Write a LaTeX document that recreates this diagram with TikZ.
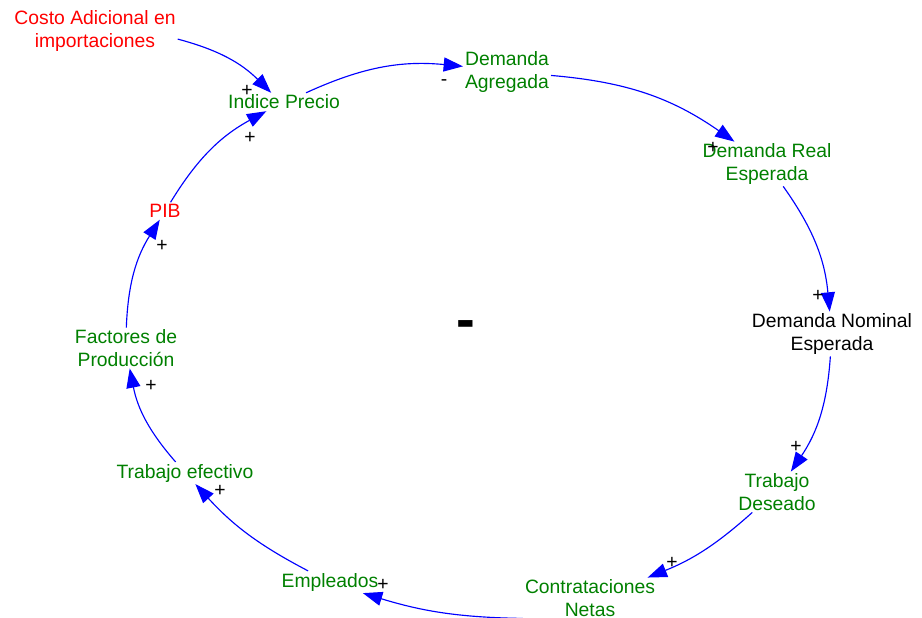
\documentclass[tikz,border=0pt]{standalone}
\usepackage{fontspec}
\setmainfont{Liberation Sans}
\usetikzlibrary{arrows.meta}
\definecolor{vargreen}{RGB}{0,128,0}
\tikzset{>/.tip={Triangle[length=11pt,width=8pt]}}

\begin{document}
\begin{tikzpicture}[x=0.02cm,y=-0.02cm,
  var/.style={align=center,inner sep=1pt,text=vargreen,font=\fontsize{11}{12.8}\selectfont},
  sign/.style={inner sep=0pt,font=\fontsize{11}{12.8}\selectfont},
  link/.style={->,blue,line width=0.65pt}]
\useasboundingbox (0,0) rectangle (922,618);

\node[var,text=red] (costo) at (95,31)  {Costo Adicional en\\importaciones};
\node[var] (ip)  at (284,102) {Indice Precio};
\node[var] (da)  at (507,72)  {Demanda\\Agregada};
\node[var] (dre) at (767,164) {Demanda Real\\Esperada};
\node[var,text=black] (dne) at (832,334) {Demanda Nominal\\Esperada};
\node[var] (td)  at (777,492) {Trabajo\\Deseado};
\node[var] (cn)  at (590,598) {Contrataciones\\Netas};
\node[var] (emp) at (330,582) {Empleados};
\node[var] (te)  at (185,473) {Trabajo efectivo};
\node[var] (fp)  at (126,348) {Factores de\\Producción};
\node[var,text=red] (pib) at (165,211) {PIB};

\path[link] (costo) edge[bend left=15] (ip);
\path[link] (ip)  edge[bend left=15] (da);
\path[link] (da)  edge[bend left=15] (dre);
\path[link] (dre) edge[bend left=15] (dne);
\path[link] (dne) edge[bend left=15] (td);
\path[link] (td)  edge[bend left=10] (cn);
\path[link] (cn.south west) edge[bend left=8] ([xshift=-10pt]emp.south east);
\path[link] (emp) edge[bend left=10] (te);
\path[link] (te)  edge[bend left=15] (fp);
\path[link] (fp)  edge[bend left=15] (pib);
\path[link] (pib) edge[bend left=15] (ip);

\node[sign] (s1)  at (247,91)  {+};
\node[sign] (s2)  at (444,83)  {-};
\node[sign] (s3)  at (713,148) {+};
\node[sign] (s4)  at (818,296) {+};
\node[sign] (s5)  at (796,447) {+};
\node[sign] (s6)  at (672,563) {+};
\node[sign] (s7)  at (383,585) {+};
\node[sign] (s8)  at (220,491) {+};
\node[sign] (s9)  at (151,386) {+};
\node[sign] (s10) at (162,246) {+};
\node[sign] (s11) at (250,138) {+};

\node[inner sep=0pt,font=\fontsize{32}{36}\selectfont\bfseries] (loop) at (466,330) {-};
\end{tikzpicture}
\end{document}
